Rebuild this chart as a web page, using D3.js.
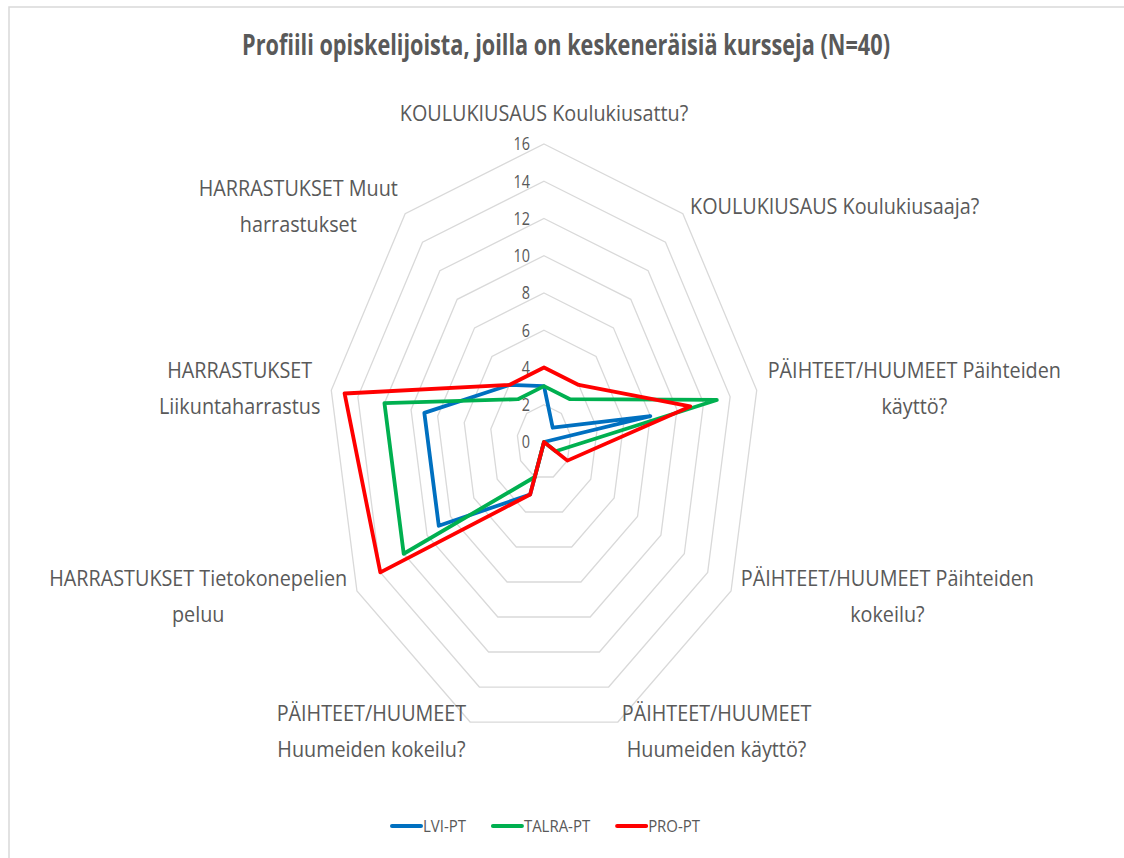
<!DOCTYPE html>
<html>
<head>
<meta charset="utf-8">
<script src="https://cdn.jsdelivr.net/npm/d3@7"></script>
<style>
	body { margin: 0; background: #fff; }
	svg { display: block; }
	text { font-family: "Open Sans", sans-serif; fill: #595959; }
</style>
</head>
<body>
<svg id="chart" width="1124" height="858"></svg>
<script>
var title = "Profiili opiskelijoista, joilla on keskeneräisiä kursseja (N=40)";

// one entry per axis, clockwise from the top, split the way the labels wrap
var categories = [
	["KOULUKIUSAUS Koulukiusattu?"],
	["KOULUKIUSAUS Koulukiusaaja?"],
	["PÄIHTEET/HUUMEET Päihteiden", "käyttö?"],
	["PÄIHTEET/HUUMEET Päihteiden", "kokeilu?"],
	["PÄIHTEET/HUUMEET", "Huumeiden käyttö?"],
	["PÄIHTEET/HUUMEET", "Huumeiden kokeilu?"],
	["HARRASTUKSET Tietokonepelien", "peluu"],
	["HARRASTUKSET", "Liikuntaharrastus"],
	["HARRASTUKSET Muut", "harrastukset"]
];

var seriesNames = ["LVI-PT", "TALRA-PT", "PRO-PT"];
var lviValues = [3, 1, 8, 0, 0, 3, 9, 9, 4];
var talraValues = [3, 3, 13, 1, 0, 2, 12, 12, 3];
var proValues = [4, 4, 11, 2, 0, 3, 14, 15, 4];
var seriesColors = ["#0070c0", "#00b050", "#ff0000"];

var tickValues = [0, 2, 4, 6, 8, 10, 12, 14, 16];

var svg = d3.select("#chart");

// the picture is squeezed sideways, so the radar has its own x and y reach
var cx = 544, cy = 442;
var rx = d3.scaleLinear().domain([0, 16]).range([0, 216]);
var ry = d3.scaleLinear().domain([0, 16]).range([0, 298]);
var textSquash = 0.9;

var n = categories.length;
var angle = function(i) { return i * 2 * Math.PI / n; };
var px = function(v, i) { return cx + rx(v) * Math.sin(angle(i)); };
var py = function(v, i) { return cy - ry(v) * Math.cos(angle(i)); };

// chart area border (only top and left show)
svg.append("path")
	.attr("d", "M9,858V7H1124")
	.attr("fill", "none")
	.attr("stroke", "#d9d9d9")
	.attr("stroke-width", 1.5);

// grid rings
var ring = d3.line().x(function(d) { return d[0]; }).y(function(d) { return d[1]; }).curve(d3.curveLinearClosed);
svg.append("g")
	.selectAll("path")
	.data(tickValues.filter(function(t) { return t > 0; }))
	.enter().append("path")
	.attr("d", function(t) {
		return ring(categories.map(function(c, i) { return [px(t, i), py(t, i)]; }));
	})
	.attr("fill", "none")
	.attr("stroke", "#d9d9d9")
	.attr("stroke-width", 1.3);

// tick labels along the top axis
svg.append("g")
	.selectAll("text")
	.data(tickValues)
	.enter().append("text")
	.attr("transform", function(t) { return "translate(" + (cx - 14) + "," + py(t, 0) + ") scale(0.8,1)"; })
	.attr("text-anchor", "end")
	.attr("dy", "0.36em")
	.attr("font-size", 18)
	.text(function(t) { return t; });

// series
var series = [lviValues, talraValues, proValues].map(function(values, k) {
	return { name: seriesNames[k], color: seriesColors[k], values: values };
});
var radar = d3.line()
	.x(function(d, i) { return px(d, i); })
	.y(function(d, i) { return py(d, i); })
	.curve(d3.curveLinearClosed);

svg.append("g")
	.selectAll("path")
	.data(series)
	.enter().append("path")
	.attr("d", function(s) { return radar(s.values); })
	.attr("fill", "none")
	.attr("stroke", function(s) { return s.color; })
	.attr("stroke-width", 3.8)
	.attr("stroke-linejoin", "round");

// category labels, placed just outside the outer ring
var lineHeight = 36;
categories.forEach(function(lines, i) {
	var s = Math.sin(angle(i)), c = Math.cos(angle(i));
	var vx = px(16, i), vy = py(16, i);
	var g = svg.append("g");
	var t = g.append("text")
		.attr("text-anchor", "middle")
		.attr("font-size", 22);
	lines.forEach(function(line, j) {
		t.append("tspan")
			.attr("x", 0)
			.attr("y", (j - (lines.length - 1) / 2) * lineHeight)
			.attr("dy", "0.35em")
			.text(line);
	});
	var w = t.node().getBBox().width * textSquash;
	var gap = 11 * Math.abs(s);
	var x = vx, y;
	if (s > 0.1) x = vx + gap + w / 2;
	else if (s < -0.1) x = vx - gap - w / 2;
	if (Math.abs(s) < 0.1) y = vy - 31;
	else y = vy - c * 10;
	g.attr("transform", "translate(" + x + "," + y + ") scale(" + textSquash + ",1)");
});

// title
svg.append("text")
	.attr("transform", "translate(566,45) scale(0.775,1)")
	.attr("text-anchor", "middle")
	.attr("dy", "0.35em")
	.attr("font-size", 28)
	.attr("font-weight", "bold")
	.text(title);

// legend
var legend = svg.append("g");
var lx = 0;
series.forEach(function(s) {
	var item = legend.append("g").attr("transform", "translate(" + lx + ",0)");
	item.append("line")
		.attr("x1", 2).attr("x2", 31)
		.attr("stroke", s.color)
		.attr("stroke-width", 4)
		.attr("stroke-linecap", "round");
	var t = item.append("text")
		.attr("transform", "translate(33,0) scale(0.88,1)")
		.attr("dy", "0.35em")
		.attr("font-size", 17)
		.text(s.name);
	lx += 33 + t.node().getComputedTextLength() * 0.88 + 25;
});
legend.attr("transform", "translate(" + (545 - (lx - 25) / 2) + ",826)");
</script>
</body>
</html>
